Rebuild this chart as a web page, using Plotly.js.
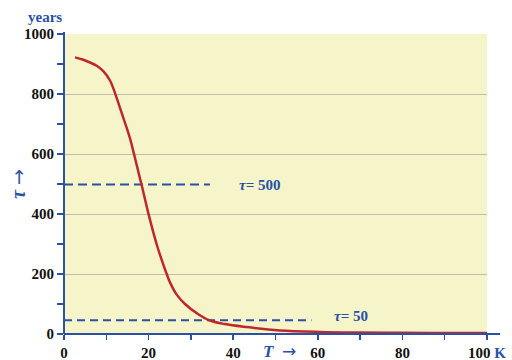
<!DOCTYPE html>
<html>
<head>
<meta charset="utf-8">
<script src="https://cdn.plot.ly/plotly-3.0.1.min.js"></script>
<style>html,body{margin:0;padding:0;background:#fff;}#chart{width:512px;height:360px;}</style>
</head>
<body>
<div id="chart"></div>
<script>
// Data
const temperatureK = [2.6, 4.4, 6.15, 7.73, 9.29, 10.87, 12.06, 13.24, 14.42, 15.6, 16.55, 17.97, 18.37, 19.93, 22.1, 24.28, 25.06, 26.6, 28.6, 31.75, 34.5, 38, 43.2, 51, 60.5, 70, 80, 90, 100];
const tauYears     = [922, 915, 905, 894, 876, 845, 803, 754, 704, 652, 600, 518, 496, 403, 290, 200, 172, 132, 100, 66, 45, 33, 23, 12, 7, 5, 4, 3.5, 3];
const ref500T = [0, 34.5];
const ref500Tau = [498, 498];
const ref50T = [0, 58.5];
const ref50Tau = [46, 46];
const xTickVals = [0, 20, 40, 60, 80, 100];
const xTickText = ["0", "20", "40", "60", "80", "100 <span style='color:#2a50a8'>K</span>"];
const yTickVals = [0, 200, 400, 600, 800, 1000];
const yTickText = ["0", "200", "400", "600", "800", "1000"];

const blue = '#2a50a8';
const serif = 'Liberation Serif';
const arrowY = "<span style='font-family:DejaVu Sans;font-size:19px;font-weight:normal'>→</span>";
const arrowX = "<span style='font-family:DejaVu Sans;font-size:17px;font-weight:normal'>→</span>";

const traces = [
  {x: ref500T, y: ref500Tau, mode: 'lines', line: {color: blue, width: 2, dash: '9px,5px'}, hoverinfo: 'skip'},
  {x: ref50T, y: ref50Tau, mode: 'lines', line: {color: blue, width: 2, dash: '8px,5px'}, hoverinfo: 'skip'},
  {x: temperatureK, y: tauYears, mode: 'lines', line: {color: '#c0272d', width: 2.5, shape: 'spline', smoothing: 1}}
];

const layout = {
  width: 512, height: 360,
  margin: {l: 64, r: 25, t: 34, b: 26},
  paper_bgcolor: '#ffffff',
  plot_bgcolor: '#f5f5c9',
  showlegend: false,
  font: {family: serif, size: 15, color: '#111'},
  xaxis: {
    range: [0, 100], tickvals: xTickVals, ticktext: xTickText,
    ticks: 'outside', ticklen: 5, tickwidth: 1.5, tickcolor: blue,
    minor: {dtick: 10, tick0: 0, ticks: 'outside', ticklen: 5, tickwidth: 1.5, tickcolor: blue, showgrid: false},
    showgrid: false, zeroline: false, showline: false,
    tickfont: {family: serif, size: 15, color: '#111', weight: 'bold'}
  },
  yaxis: {
    range: [0, 1000], tickvals: yTickVals, ticktext: yTickText,
    ticks: 'outside', ticklen: 6, tickwidth: 1.5, tickcolor: blue,
    minor: {dtick: 100, tick0: 0, ticks: 'outside', ticklen: 6, tickwidth: 1.5, tickcolor: blue, showgrid: false},
    showgrid: true, gridcolor: '#bdbdb0', gridwidth: 1,
    zeroline: false, showline: false,
    tickfont: {family: serif, size: 15, color: '#111', weight: 'bold'}
  },
  shapes: [
    {type: 'line', xref: 'paper', yref: 'paper', x0: 0, x1: 1.031, y0: 0, y1: 0, line: {color: blue, width: 2}, layer: 'above'},
    {type: 'line', xref: 'paper', yref: 'paper', x0: 0, x1: 0, y0: 0, y1: 1.007, line: {color: blue, width: 2}, layer: 'above'}
  ],
  annotations: [
    {text: 'years', xref: 'paper', yref: 'paper', x: -0.045, y: 1.057, xanchor: 'center', yanchor: 'middle', showarrow: false,
     font: {family: serif, size: 15, color: blue, weight: 'bold'}},
    {text: '<i>τ</i> ' + arrowY, xref: 'paper', yref: 'paper', x: -0.109, y: 0.5, xanchor: 'center', yanchor: 'middle', textangle: -90, showarrow: false,
     font: {family: serif, size: 20, color: blue, weight: 'bold'}},
    {text: '<i>T</i>  ' + arrowX, xref: 'paper', yref: 'paper', x: 0.466, y: -0.055, xanchor: 'left', yanchor: 'middle', showarrow: false,
     font: {family: serif, size: 17, color: blue, weight: 'bold'}},
    {text: '<i>τ</i>= 500', xref: 'x', yref: 'y', x: 40.8, y: 498, xanchor: 'left', yanchor: 'middle', showarrow: false,
     font: {family: serif, size: 15, color: blue, weight: 'bold'}},
    {text: '<i>τ</i>= 50', xref: 'x', yref: 'y', x: 63.4, y: 61, xanchor: 'left', yanchor: 'middle', showarrow: false,
     font: {family: serif, size: 15, color: blue, weight: 'bold'}}
  ]
};

Plotly.newPlot('chart', traces, layout, {displayModeBar: false, staticPlot: true});
</script>
</body>
</html>
